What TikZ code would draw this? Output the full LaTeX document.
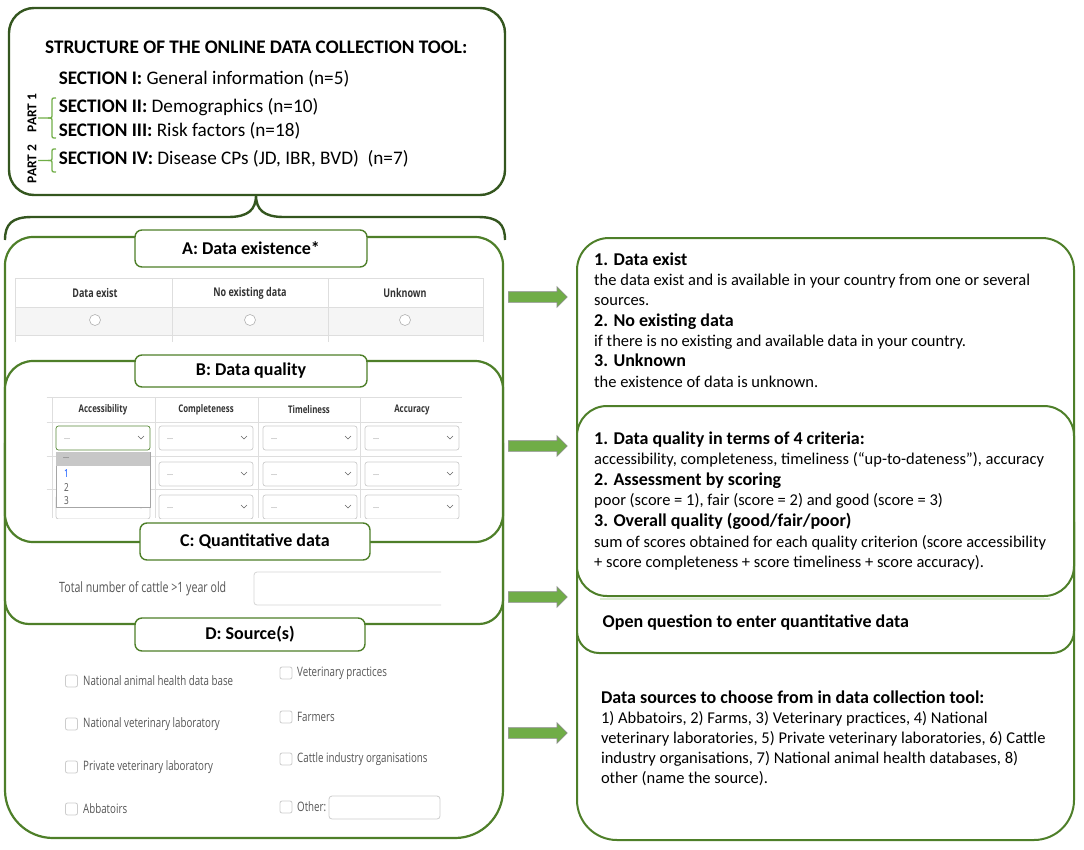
\documentclass[tikz,border=0pt]{standalone}
\usepackage{fontspec}
\setmainfont{Carlito}
\newfontfamily\shotfont[FakeStretch=0.75]{Open Sans}
\usetikzlibrary{shapes.arrows}
\definecolor{darkg}{HTML}{34561F}
\definecolor{midg}{HTML}{4E7F29}
\definecolor{lightg}{HTML}{70AD47}
\definecolor{txtgray}{HTML}{555555}
\definecolor{hdrgray}{HTML}{333333}
\definecolor{linegray}{HTML}{DEDEDE}
\definecolor{boxgray}{HTML}{CCCCCC}
\newcommand\fsz[1]{\fontsize{#1}{#1}\selectfont}
\newcommand\ddbox[2]{%
  \draw[#2, rounded corners=2.5pt, line width=0.7pt, fill=white] (#1) rectangle ++(94,24);
  \draw[black!60, line width=0.6pt] ([shift={(82,10)}]#1) -- ([shift={(85,13)}]#1) -- ([shift={(88,10)}]#1);
}
\newcommand\ddown[3]{%
  \ddbox{#1}{#3}
  \node[font=\fsz{8}, text=gray, anchor=west, inner sep=0pt] (#2) at ([shift={(8,13)}]#1) {...};
}
\begin{document}
\begin{tikzpicture}[x=1pt,y=-1pt,
  topline/.style={draw=darkg, line width=2.4pt},
  panel/.style={draw=midg, line width=2.2pt},
  rpanel/.style={draw=midg, line width=2pt},
  lbl/.style={draw=midg, line width=1.4pt, rounded corners=7pt, fill=white,
    font=\fsz{18}\bfseries, minimum width=232pt, inner sep=0pt},
  tl/.style={anchor=base west, inner sep=0pt, font=\fsz{19.2}},
  rt/.style={anchor=base west, inner sep=0pt, font=\fsz{16.5}},
  rtb/.style={rt, font=\fsz{18}\bfseries},
  shot/.style={inner sep=0pt, text=txtgray, font=\shotfont\fsz{13}},
  hdr/.style={inner sep=0pt, text=hdrgray, font=\shotfont\fsz{12}\bfseries},
  hdrb/.style={inner sep=0pt, text=hdrgray, font=\shotfont\fsz{10.5}\bfseries},
  cbox/.style={draw=boxgray, rounded corners=2pt, line width=0.8pt},
  garrow/.style={single arrow, draw=black!45, line width=0.6pt, fill=lightg,
    minimum height=59pt, single arrow head extend=5pt, inner xsep=0pt,
    inner ysep=5pt, anchor=tail},
  pbrace/.style={draw=lightg, line width=1.3pt}
]
\useasboundingbox (0,0) rectangle (1084,849);

% ---------------- top box ----------------
\draw[topline, rounded corners=25pt] (9,8) rectangle (505,195);
\node[tl, font=\fsz{19.2}\bfseries] (title) at (45,53.3) {STRUCTURE OF THE ONLINE DATA COLLECTION TOOL:};
\node[tl] (s1) at (58.6,84) {\textbf{SECTION I:} General information (n=5)};
\node[tl] (s2) at (58.6,112) {\textbf{SECTION II:} Demographics (n=10)};
\node[tl] (s3) at (58.6,136) {\textbf{SECTION III:} Risk factors (n=18)};
\node[tl] (s4) at (58.6,164) {\textbf{SECTION IV:} Disease CPs (JD, IBR, BVD)\ \ (n=7)};
\draw[pbrace] (56,98) .. controls (52,98) .. (52,102) -- (52,114) .. controls (52,118) .. (48,118) -- (38,118);
\draw[pbrace] (48,118) .. controls (52,118) .. (52,122) -- (52,134) .. controls (52,138) .. (56,138);
\draw[pbrace] (56,149) .. controls (52,149) .. (52,153) -- (52,157) .. controls (52,160.5) .. (48,160.5) -- (38,160.5);
\draw[pbrace] (48,160.5) .. controls (52,160.5) .. (52,164) -- (52,168) .. controls (52,172) .. (56,172);
\node[rotate=90, inner sep=0pt, font=\fsz{13.5}\bfseries] (p1) at (32,113) {PART 1};
\node[rotate=90, inner sep=0pt, font=\fsz{13.5}\bfseries] (p2) at (32,164) {PART 2};

% brace below top box
\draw[topline] (5,240) .. controls (5,224) and (12,217) .. (32,217) -- (228,217)
  .. controls (248,217) and (256,210) .. (256,195)
  .. controls (256,210) and (264,217) .. (284,217) -- (478,217)
  .. controls (498,217) and (505,224) .. (505,240);

% ---------------- left panel ----------------
\draw[panel, rounded corners=28pt] (5,620) |- (254,237) -| (503,620);
\draw[panel, rounded corners=48pt] (5,620) |- (254,838) -| (503,620);
\filldraw[panel, fill=white, rounded corners=24pt] (5,420) rectangle (503,624);
\filldraw[panel, fill=white, rounded corners=28pt] (5,361) rectangle (503,542);

% screenshot A
\fill[black!4] (15.5,307) rectangle (483,335);
\draw[linegray, line width=0.8pt] (15.5,278) -- (483,278) (15.5,307) -- (483,307) (15.5,335) -- (483,335);
\draw[linegray, line width=0.8pt] (15.5,278) -- (15.5,342) (172,278) -- (172,342) (328,278) -- (328,342) (483,278) -- (483,342);
\node[hdr] (ha1) at (95,293) {Data exist};
\node[hdr] (ha2) at (250,293) {No existing data};
\node[hdr] (ha3) at (405,293) {Unknown};
\draw[black!30, fill=white, line width=0.6pt] (95,320) circle (5.5pt) (250,320) circle (5.5pt) (405,320) circle (5.5pt);

% screenshot B
\draw[linegray, line width=0.8pt] (46.5,397) -- (462,397) (46.5,422) -- (462,422) (46.5,456) -- (462,456) (46.5,489) -- (462,489);
\draw[linegray, line width=0.8pt] (52,397) -- (52,518) (155,397) -- (155,518) (258,397) -- (258,518) (360,397) -- (360,518);
\node[hdrb] (hb1) at (103,410) {Accessibility};
\node[hdrb] (hb2) at (206,410) {Completeness};
\node[hdrb] (hb3) at (309,410) {Timeliness};
\node[hdrb] (hb4) at (412,410) {Accuracy};
\begin{scope}
\clip (40,395) rectangle (470,518);
\ddown{56,426}{d11}{lightg!80!black}
\ddown{159,426}{d12}{boxgray}
\ddown{263,426}{d13}{boxgray}
\ddown{365,426}{d14}{boxgray}
\ddown{159,462}{d22}{boxgray}
\ddown{263,462}{d23}{boxgray}
\ddown{365,462}{d24}{boxgray}
\ddbox{56,495}{boxgray}
\ddown{159,495}{d32}{boxgray}
\ddown{263,495}{d33}{boxgray}
\ddown{365,495}{d34}{boxgray}
\end{scope}
\draw[black!35, fill=white, line width=0.6pt] (56,452) rectangle (150,507);
\fill[black!22] (56.4,452.4) rectangle (149.6,466);
\node[font=\fsz{8}, text=black!70, anchor=west, inner sep=0pt] (pop0) at (63,458) {...};
\node[font=\shotfont\fsz{11}, text=blue!70!cyan, anchor=west, inner sep=0pt] (pop1) at (64,474) {1};
\node[font=\shotfont\fsz{11}, text=txtgray, anchor=west, inner sep=0pt] (pop2) at (64,487.5) {2};
\node[font=\shotfont\fsz{11}, text=txtgray, anchor=west, inner sep=0pt] (pop3) at (64,501) {3};

% screenshot C
\node[shot, font=\shotfont\fsz{14.2}, anchor=west] (cattle) at (59,589) {Total number of cattle >1 year old};
\draw[boxgray!80, rounded corners=3pt, line width=0.8pt] (441,572) -- (254,572) -- (254,605) -- (441,605);

% screenshot D
\foreach \y/\t [count=\i] in {681/National animal health data base, 724/National veterinary laboratory, 767/Private veterinary laboratory, 809/Abbatoirs} {
  \draw[cbox] (65.5,\y-6) rectangle (77.5,\y+6);
  \node[shot, anchor=west] (dl\i) at (83,\y) {\t};
}
\foreach \y/\t [count=\i] in {673/Veterinary practices, 717/Farmers, 759/Cattle industry organisations, 807/Other:} {
  \draw[cbox] (280,\y-6) rectangle (292,\y+6);
  \node[shot, anchor=west] (dr\i) at (297,\y) {\t};
}
\draw[cbox, rounded corners=3pt] (329,796) rectangle (440,819);

% section labels
\node[lbl, minimum height=37pt] (la) at (251,248.5) {A: Data existence*};
\node[lbl, minimum height=32pt] (lb) at (251,371) {B: Data quality};
\node[lbl, minimum height=37pt, minimum width=230pt] (lc) at (255,541.5) {C: Quantitative data};
\node[lbl, minimum height=33pt, minimum width=230pt] (ld) at (250,634.5) {D: Source(s)};

% ---------------- arrows ----------------
\node[garrow] (ar1) at (508,297) {};
\node[garrow] (ar2) at (508,446) {};
\node[garrow] (ar3) at (508,597) {};
\node[garrow] (ar4) at (508,733) {};

% ---------------- right panel ----------------
\draw[rpanel, rounded corners=32pt] (577,620) |- (825,238) -| (1074,620);
\draw[rpanel, rounded corners=40pt] (577,620) |- (825,840) -| (1074,620);
\filldraw[rpanel, fill=white, rounded corners=22pt] (577,500) rectangle (1074,653);
\draw[lightg!25, line width=2pt] (600,599) -- (1050,599);
\filldraw[rpanel, fill=white, rounded corners=30pt] (577,406) rectangle (1074,596);

\node[rtb] (r1a) at (594,265) {1. Data exist};
\node[rt] (r1b) at (594,285.3) {the data exist and is available in your country from one or several};
\node[rt] (r1c) at (594,305.6) {sources.};
\node[rtb] (r1d) at (594,326) {2. No existing data};
\node[rt] (r1e) at (594,346.2) {if there is no existing and available data in your country.};
\node[rtb] (r1f) at (594,366.5) {3. Unknown};
\node[rt] (r1g) at (594,387) {the existence of data is unknown.};

\node[rtb] (r2a) at (594,444) {1. Data quality in terms of 4 criteria:};
\node[rt] (r2b) at (594,464.6) {accessibility, completeness, timeliness (“up-to-dateness”), accuracy};
\node[rtb] (r2c) at (594,485.2) {2. Assessment by scoring};
\node[rt] (r2d) at (594,505.8) {poor (score = 1), fair (score = 2) and good (score = 3)};
\node[rtb] (r2e) at (594,526.4) {3. Overall quality (good/fair/poor)};
\node[rt] (r2f) at (594,547) {sum of scores obtained for each quality criterion (score accessibility};
\node[rt] (r2g) at (594,567.6) {+ score completeness + score timeliness + score accuracy).};

\node[rtb] (r3a) at (602.5,627) {Open question to enter quantitative data};

\node[rtb] (r4a) at (600.8,703) {Data sources to choose from in data collection tool:};
\node[rt] (r4b) at (600.8,723) {1) Abbatoirs, 2) Farms, 3) Veterinary practices, 4) National};
\node[rt] (r4c) at (600.8,743) {veterinary laboratories, 5) Private veterinary laboratories, 6) Cattle};
\node[rt] (r4d) at (600.8,763) {industry organisations, 7) National animal health databases, 8)};
\node[rt] (r4e) at (600.8,783) {other (name the source).};
\end{tikzpicture}
\end{document}
